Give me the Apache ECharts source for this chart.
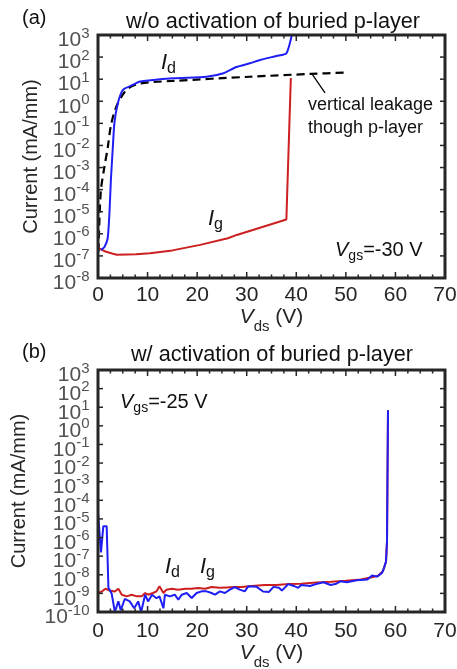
<!DOCTYPE html>
<html>
<head>
<meta charset="utf-8">
<script src="https://cdn.jsdelivr.net/npm/echarts@6/dist/echarts.min.js"></script>
<style>html,body{margin:0;padding:0;background:#fff}#c{width:457px;height:669px}</style>
</head>
<body>
<div id="c"></div>
<script>
// Values: [Vds (V), log10(Current in mA/mm)]
const idTopLog = [[0.6,-6.73],[1.3,-6.6],[1.95,-6.2],[2.3,-5.1],[2.6,-3.56],[3.0,-2.05],[3.3,-1.0],[4.0,-0.09],[5.0,0.51],[7.0,0.74],[8.5,0.89],[15.2,1.04],[21.9,1.11],[25.3,1.27],[27.9,1.55],[30.6,1.72],[32.9,1.88],[36.0,2.05],[38.0,2.17],[39.1,3.0]];
const igTopLog = [[0,-6.64],[1.5,-6.8],[3,-6.9],[3.8,-6.95],[7.7,-6.92],[10.5,-6.88],[15,-6.75],[20.6,-6.5],[26.2,-6.2],[28,-6.05],[33,-5.7],[38,-5.35],[38.9,1.05]];
const leakTopLog = [[0.1,-6.8],[0.3,-5.3],[0.6,-4.0],[1.27,-3.0],[1.96,-2.1],[2.6,-1.1],[3.6,-0.3],[5.0,0.3],[6.2,0.6],[8.5,0.81],[15,0.92],[30.6,1.11],[43,1.24],[50,1.3]];
const arrowTopLog = [[43.3,1.19],[45.8,0.38]];
const idBotLog = [[0,-4.66],[0.6,-6.8],[1.07,-5.4],[1.75,-5.4],[2.1,-8.7],[2.75,-9.0],[3.4,-10.0],[4.1,-9.43],[4.6,-9.9],[5.4,-9.3],[6.4,-9.43],[7.3,-9.8],[8.1,-9.43],[8.7,-10.0],[9.5,-9.07],[10.1,-9.43],[10.9,-9.07],[11.8,-9.26],[12.4,-9.16],[13.2,-9.8],[13.5,-9.07],[14.5,-9.16],[15.5,-9.07],[16.2,-9.34],[16.9,-9.07],[17.9,-8.98],[18.9,-9.25],[19.9,-8.98],[20.9,-8.89],[21.9,-8.89],[22.9,-8.98],[23.6,-9.07],[24.6,-8.89],[25.6,-8.98],[26.6,-8.8],[27.6,-8.66],[28.6,-8.8],[29.6,-8.89],[30.3,-8.62],[32,-8.65],[33.3,-8.9],[34.5,-8.92],[35.4,-8.65],[36.5,-8.7],[37.1,-8.85],[38.4,-8.5],[39.5,-8.6],[40.4,-8.7],[41,-8.55],[42.8,-8.6],[44,-8.5],[45.5,-8.4],[46.9,-8.55],[47.9,-8.5],[48.9,-8.35],[50.2,-8.4],[52.2,-8.3],[54.3,-8.26],[55.3,-8.04],[56.3,-8.1],[57.3,-7.9],[57.7,-7.63],[58.1,-7.27],[58.3,-6.2],[58.5,0.84]];
const igBotLog = [[0,-8.98],[0.8,-8.89],[1.5,-8.75],[2.5,-8.86],[3.4,-8.9],[4.1,-8.75],[4.8,-9.07],[5.8,-9.16],[6.8,-9.07],[7.8,-9.16],[8.8,-9.16],[9.5,-8.98],[10.1,-9.07],[11.1,-8.98],[11.8,-8.89],[12.4,-8.62],[13.2,-8.98],[13.8,-8.8],[14.9,-8.75],[16.2,-8.8],[17.6,-8.75],[18.9,-8.75],[20.2,-8.71],[21.6,-8.75],[22.9,-8.66],[24.5,-8.7],[26,-8.68],[27.5,-8.66],[29,-8.66],[31,-8.6],[33.6,-8.55],[36,-8.55],[38.5,-8.5],[41,-8.48],[44,-8.42],[47,-8.38],[50,-8.32],[53,-8.25],[55,-8.15],[56.5,-8.05],[57.5,-7.8],[58.1,-7.3],[58.3,-6.2],[58.5,0.84]];
const xTicks = [0,10,20,30,40,50,60,70];
const xMinorTicks = [2.5,5,7.5,12.5,15,17.5,22.5,25,27.5,32.5,35,37.5,42.5,45,47.5,52.5,55,57.5,62.5,65,67.5];
const yTickTop = [3,2,1,0,-1,-2,-3,-4,-5,-6,-7,-8];
const yTickBot = [3,2,1,0,-1,-2,-3,-4,-5,-6,-7,-8,-9,-10];
const titles = ['w/o activation of buried p-layer', 'w/ activation of buried p-layer'];

const FONT = '"Liberation Sans", Arial, Helvetica, sans-serif';
const AX = '#262626';
const BLUE = '#1f1ff5';
const RED = '#cc1f1f';

const chart = echarts.init(document.getElementById('c'), null, {renderer: 'canvas'});

const supRich = {
  b: {fontSize: 21, fontFamily: FONT, color: AX, verticalAlign: 'bottom'},
  s: {fontSize: 15, fontFamily: FONT, color: AX, verticalAlign: 'bottom', padding: [0, 0, 10, 0]}
};
const nameRich = {
  i: {fontSize: 21, fontFamily: FONT, fontStyle: 'italic', color: AX, verticalAlign: 'top'},
  s: {fontSize: 15, fontFamily: FONT, color: AX, verticalAlign: 'top', padding: [12, 0, 0, 0]},
  n: {fontSize: 21, fontFamily: FONT, color: AX, verticalAlign: 'top'}
};

function xAxis(gi, margin, gap) {
  return {
    gridIndex: gi, type: 'value', min: xTicks[0], max: xTicks[xTicks.length - 1], interval: 10, position: 'bottom',
    axisLine: {show: false, onZero: false}, splitLine: {show: false}, axisTick: {show: false},
    axisLabel: {show: true, margin: margin, fontSize: 21, fontFamily: FONT, color: AX},
    name: '{i|V}{s|ds}{n| (V)}', nameLocation: 'middle', nameGap: gap,
    nameTextStyle: {rich: nameRich}
  };
}
function yAxis(gi, ticks, gap) {
  return {
    gridIndex: gi, type: 'value', min: Math.min.apply(null, ticks), max: Math.max.apply(null, ticks), interval: 1,
    position: 'left', axisLine: {show: false, onZero: false}, splitLine: {show: false},
    axisTick: {show: false}, axisLabel: {show: false},
    name: 'Current (mA/mm)', nameLocation: 'middle', nameGap: gap, nameRotate: 90,
    nameTextStyle: {fontSize: 20, fontFamily: FONT, color: AX}
  };
}
function tickLabelSeries(gi, ticks) {
  return {
    type: 'scatter', xAxisIndex: gi, yAxisIndex: gi, silent: true, clip: false,
    symbolSize: 1, itemStyle: {color: 'rgba(0,0,0,0)'}, z: 1,
    data: ticks.map(n => [0, n]),
    label: {show: true, position: 'left', distance: 8, padding: [7, 0, 0, 0],
      formatter: p => '{b|10}{s|' + String(p.value[1]) + '}', rich: supRich}
  };
}
// frame box + inward ticks on all four sides, positioned through the axes' scales
function frameSeries(gi, yTicks) {
  const x0 = xTicks[0], x1 = xTicks[xTicks.length - 1];
  const y0 = Math.min.apply(null, yTicks), y1 = Math.max.apply(null, yTicks);
  return {
    type: 'custom', xAxisIndex: gi, yAxisIndex: gi, silent: true, clip: false, z: 6,
    data: [[x0, y0]],
    renderItem: function (params, api) {
      const tl = api.coord([x0, y1]);
      const br = api.coord([x1, y0]);
      const st = {stroke: AX, lineWidth: 1.5, fill: null};
      const kids = [];
      const vTick = (v, len) => {
        const p = api.coord([v, y0]);
        kids.push({type: 'line', shape: {x1: p[0], y1: br[1], x2: p[0], y2: br[1] - len}, style: st});
        kids.push({type: 'line', shape: {x1: p[0], y1: tl[1], x2: p[0], y2: tl[1] + len}, style: st});
      };
      xTicks.forEach(v => vTick(v, 6));
      xMinorTicks.forEach(v => vTick(v, 3.5));
      yTicks.forEach(v => {
        const p = api.coord([x0, v]);
        kids.push({type: 'line', shape: {x1: tl[0], y1: p[1], x2: tl[0] + 5, y2: p[1]}, style: st});
        kids.push({type: 'line', shape: {x1: br[0], y1: p[1], x2: br[0] - 5, y2: p[1]}, style: st});
      });
      kids.push({type: 'rect', shape: {x: tl[0], y: tl[1], width: br[0] - tl[0], height: br[1] - tl[1]},
        style: {stroke: AX, lineWidth: 3, fill: null}});
      return {type: 'group', children: kids};
    }
  };
}

const grids = [
  {left: 98, top: 35, width: 347, height: 243, show: false, outerBoundsMode: 'none', containLabel: false},
  {left: 98, top: 370, width: 347, height: 242, show: false, outerBoundsMode: 'none', containLabel: false}
];

function t(x, y, text, opts) {
  return {type: 'text', x: x, y: y, z: 100, style: Object.assign({text: text, fontFamily: FONT, fontSize: 20, fill: '#111', align: 'left', verticalAlign: 'middle'}, opts || {})};
}
function labelRich(color, big, sub, low) {
  return {
    i: {fontSize: big, fontFamily: FONT, fontStyle: 'italic', color: color, verticalAlign: 'top'},
    s: {fontSize: sub, fontFamily: FONT, color: color, verticalAlign: 'top', padding: [low, 0, 0, 0]},
    n: {fontSize: big, fontFamily: FONT, color: color, verticalAlign: 'top'}
  };
}

const option = {
  animation: false,
  grid: grids,
  xAxis: [xAxis(0, 7, 28), xAxis(1, 9, 30)],
  yAxis: [yAxis(0, yTickTop, 57), yAxis(1, yTickBot, 69)],
  series: [
    tickLabelSeries(0, yTickTop),
    tickLabelSeries(1, yTickBot),
    {type: 'line', xAxisIndex: 0, yAxisIndex: 0, data: leakTopLog, showSymbol: false, smooth: 0.3,
      lineStyle: {color: '#000', width: 2.2, type: [8, 5]}, z: 3,
      markLine: {silent: true, symbol: ['none', 'arrow'], symbolSize: [0, 9], label: {show: false},
        lineStyle: {color: '#000', width: 1.3, type: 'solid'},
        data: [[{coord: arrowTopLog[0]}, {coord: arrowTopLog[1]}]]}},
    {type: 'line', xAxisIndex: 0, yAxisIndex: 0, data: igTopLog, showSymbol: false,
      lineStyle: {color: RED, width: 2}, z: 4},
    {type: 'line', xAxisIndex: 0, yAxisIndex: 0, data: idTopLog, showSymbol: false, smooth: 0.2,
      lineStyle: {color: BLUE, width: 2}, z: 5},
    {type: 'line', xAxisIndex: 1, yAxisIndex: 1, data: igBotLog, showSymbol: false,
      lineStyle: {color: RED, width: 2}, z: 4},
    {type: 'line', xAxisIndex: 1, yAxisIndex: 1, data: idBotLog, showSymbol: false,
      lineStyle: {color: BLUE, width: 2}, z: 5},
    frameSeries(0, yTickTop),
    frameSeries(1, yTickBot)
  ],
  graphic: [
    t(22, 18, '(a)'),
    t(273, 22, titles[0], {align: 'center', fontSize: 21.7}),
    t(22, 352, '(b)'),
    t(272, 355, titles[1], {align: 'center', fontSize: 21.7}),
    t(308, 105, 'vertical leakage', {fontSize: 18}),
    t(308, 128, 'though p-layer', {fontSize: 18}),
    t(335, 252, '{i|V}{s|gs}{n|=-30 V}', {rich: labelRich('#111', 20, 14, 9)}),
    t(120, 404, '{i|V}{s|gs}{n|=-25 V}', {rich: labelRich('#111', 20, 14, 9)}),
    t(161, 64, '{i|I}{s|d}', {rich: labelRich(BLUE, 22, 16, 9)}),
    t(208, 220, '{i|I}{s|g}', {rich: labelRich(RED, 22, 16, 9)}),
    t(165, 568, '{i|I}{s|d}', {rich: labelRich(BLUE, 22, 16, 9)}),
    t(200, 568, '{i|I}{s|g}', {rich: labelRich(RED, 22, 16, 9)})
  ]
};
chart.setOption(option);
</script>
</body>
</html>
